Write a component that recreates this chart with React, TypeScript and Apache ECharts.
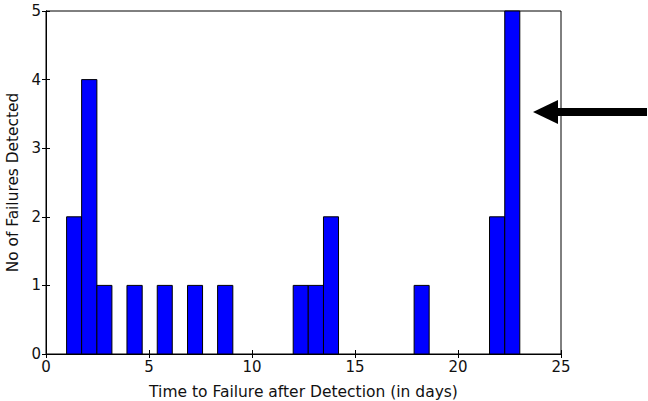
import React, { useEffect, useRef } from "react";
import * as echarts from "echarts";

const binStarts = [1.0, 1.73, 2.47, 3.93, 5.4, 6.87, 8.33, 12.0, 12.73, 13.47, 17.87, 21.53, 22.27];
const binEnds = [1.73, 2.47, 3.2, 4.67, 6.13, 7.6, 9.07, 12.73, 13.47, 14.2, 18.6, 22.27, 23.0];
const counts = [2, 4, 1, 1, 1, 1, 1, 1, 1, 2, 1, 2, 5];

const xTitle = "Time to Failure after Detection (in days)";
const yTitle = "No of Failures Detected";

export default function App() {
  const ref = useRef<HTMLDivElement>(null);
  useEffect(() => {
    if (!ref.current) return;
    const chart = echarts.init(ref.current, null, { renderer: "svg" });
    const font = "DejaVu Sans";
    const data = binStarts.map((s, i) => [s, binEnds[i], counts[i]]);
    const tickStyle = { show: true, inside: true, length: 4, lineStyle: { color: "#000", width: 1 } };
    chart.setOption({
      animation: false,
      backgroundColor: "#fff",
      grid: {
        left: 46, top: 11, right: 87, bottom: 47, show: true, borderColor: "#000", borderWidth: 1,
        containLabel: false, outerBoundsMode: "none",
      },
      xAxis: [
        {
          type: "value", min: 0, max: 25, interval: 5, position: "bottom",
          name: xTitle, nameLocation: "middle", nameGap: 30,
          nameTextStyle: { fontFamily: font, fontSize: 15.5, color: "#111" },
          axisLine: { show: true, lineStyle: { color: "#000" } },
          axisTick: tickStyle,
          axisLabel: { fontFamily: font, fontSize: 15, color: "#111", margin: 5 },
          splitLine: { show: false },
        },
        {
          type: "value", min: 0, max: 25, interval: 5, position: "top",
          axisLine: { show: true, lineStyle: { color: "#000" } },
          axisTick: tickStyle, axisLabel: { show: false }, splitLine: { show: false },
        },
      ],
      yAxis: [
        {
          type: "value", min: 0, max: 5, interval: 1, position: "left",
          name: yTitle, nameLocation: "middle", nameGap: 25, nameRotate: 90,
          nameTextStyle: { fontFamily: font, fontSize: 15.4, color: "#111" },
          axisLine: { show: true, lineStyle: { color: "#000" } },
          axisTick: tickStyle,
          axisLabel: { fontFamily: font, fontSize: 15, color: "#111", margin: 5 },
          splitLine: { show: false },
        },
        {
          type: "value", min: 0, max: 5, interval: 1, position: "right",
          axisLine: { show: true, lineStyle: { color: "#000" } },
          axisTick: tickStyle, axisLabel: { show: false }, splitLine: { show: false },
        },
      ],
      series: [
        {
          type: "custom",
          xAxisIndex: 0,
          yAxisIndex: 0,
          data,
          encode: { x: [0, 1], y: 2 },
          renderItem: (params: any, api: any) => {
            const p0 = api.coord([api.value(0), api.value(2)]);
            const p1 = api.coord([api.value(1), 0]);
            return {
              type: "rect",
              shape: { x: p0[0], y: p0[1], width: p1[0] - p0[0], height: p1[1] - p0[1] },
              style: { fill: "#0000ff", stroke: "#000", lineWidth: 1 },
            };
          },
        },
      ],
      graphic: [
        { type: "rect", shape: { x: 555, y: 108, width: 92, height: 8 }, style: { fill: "#000" } },
        { type: "polygon", shape: { points: [[533, 112], [558, 100], [558, 124]] }, style: { fill: "#000" } },
      ],
    });
    return () => chart.dispose();
  }, []);
  return <div ref={ref} style={{ width: 648, height: 401, position: "absolute", left: 0, top: 0 }} />;
}
